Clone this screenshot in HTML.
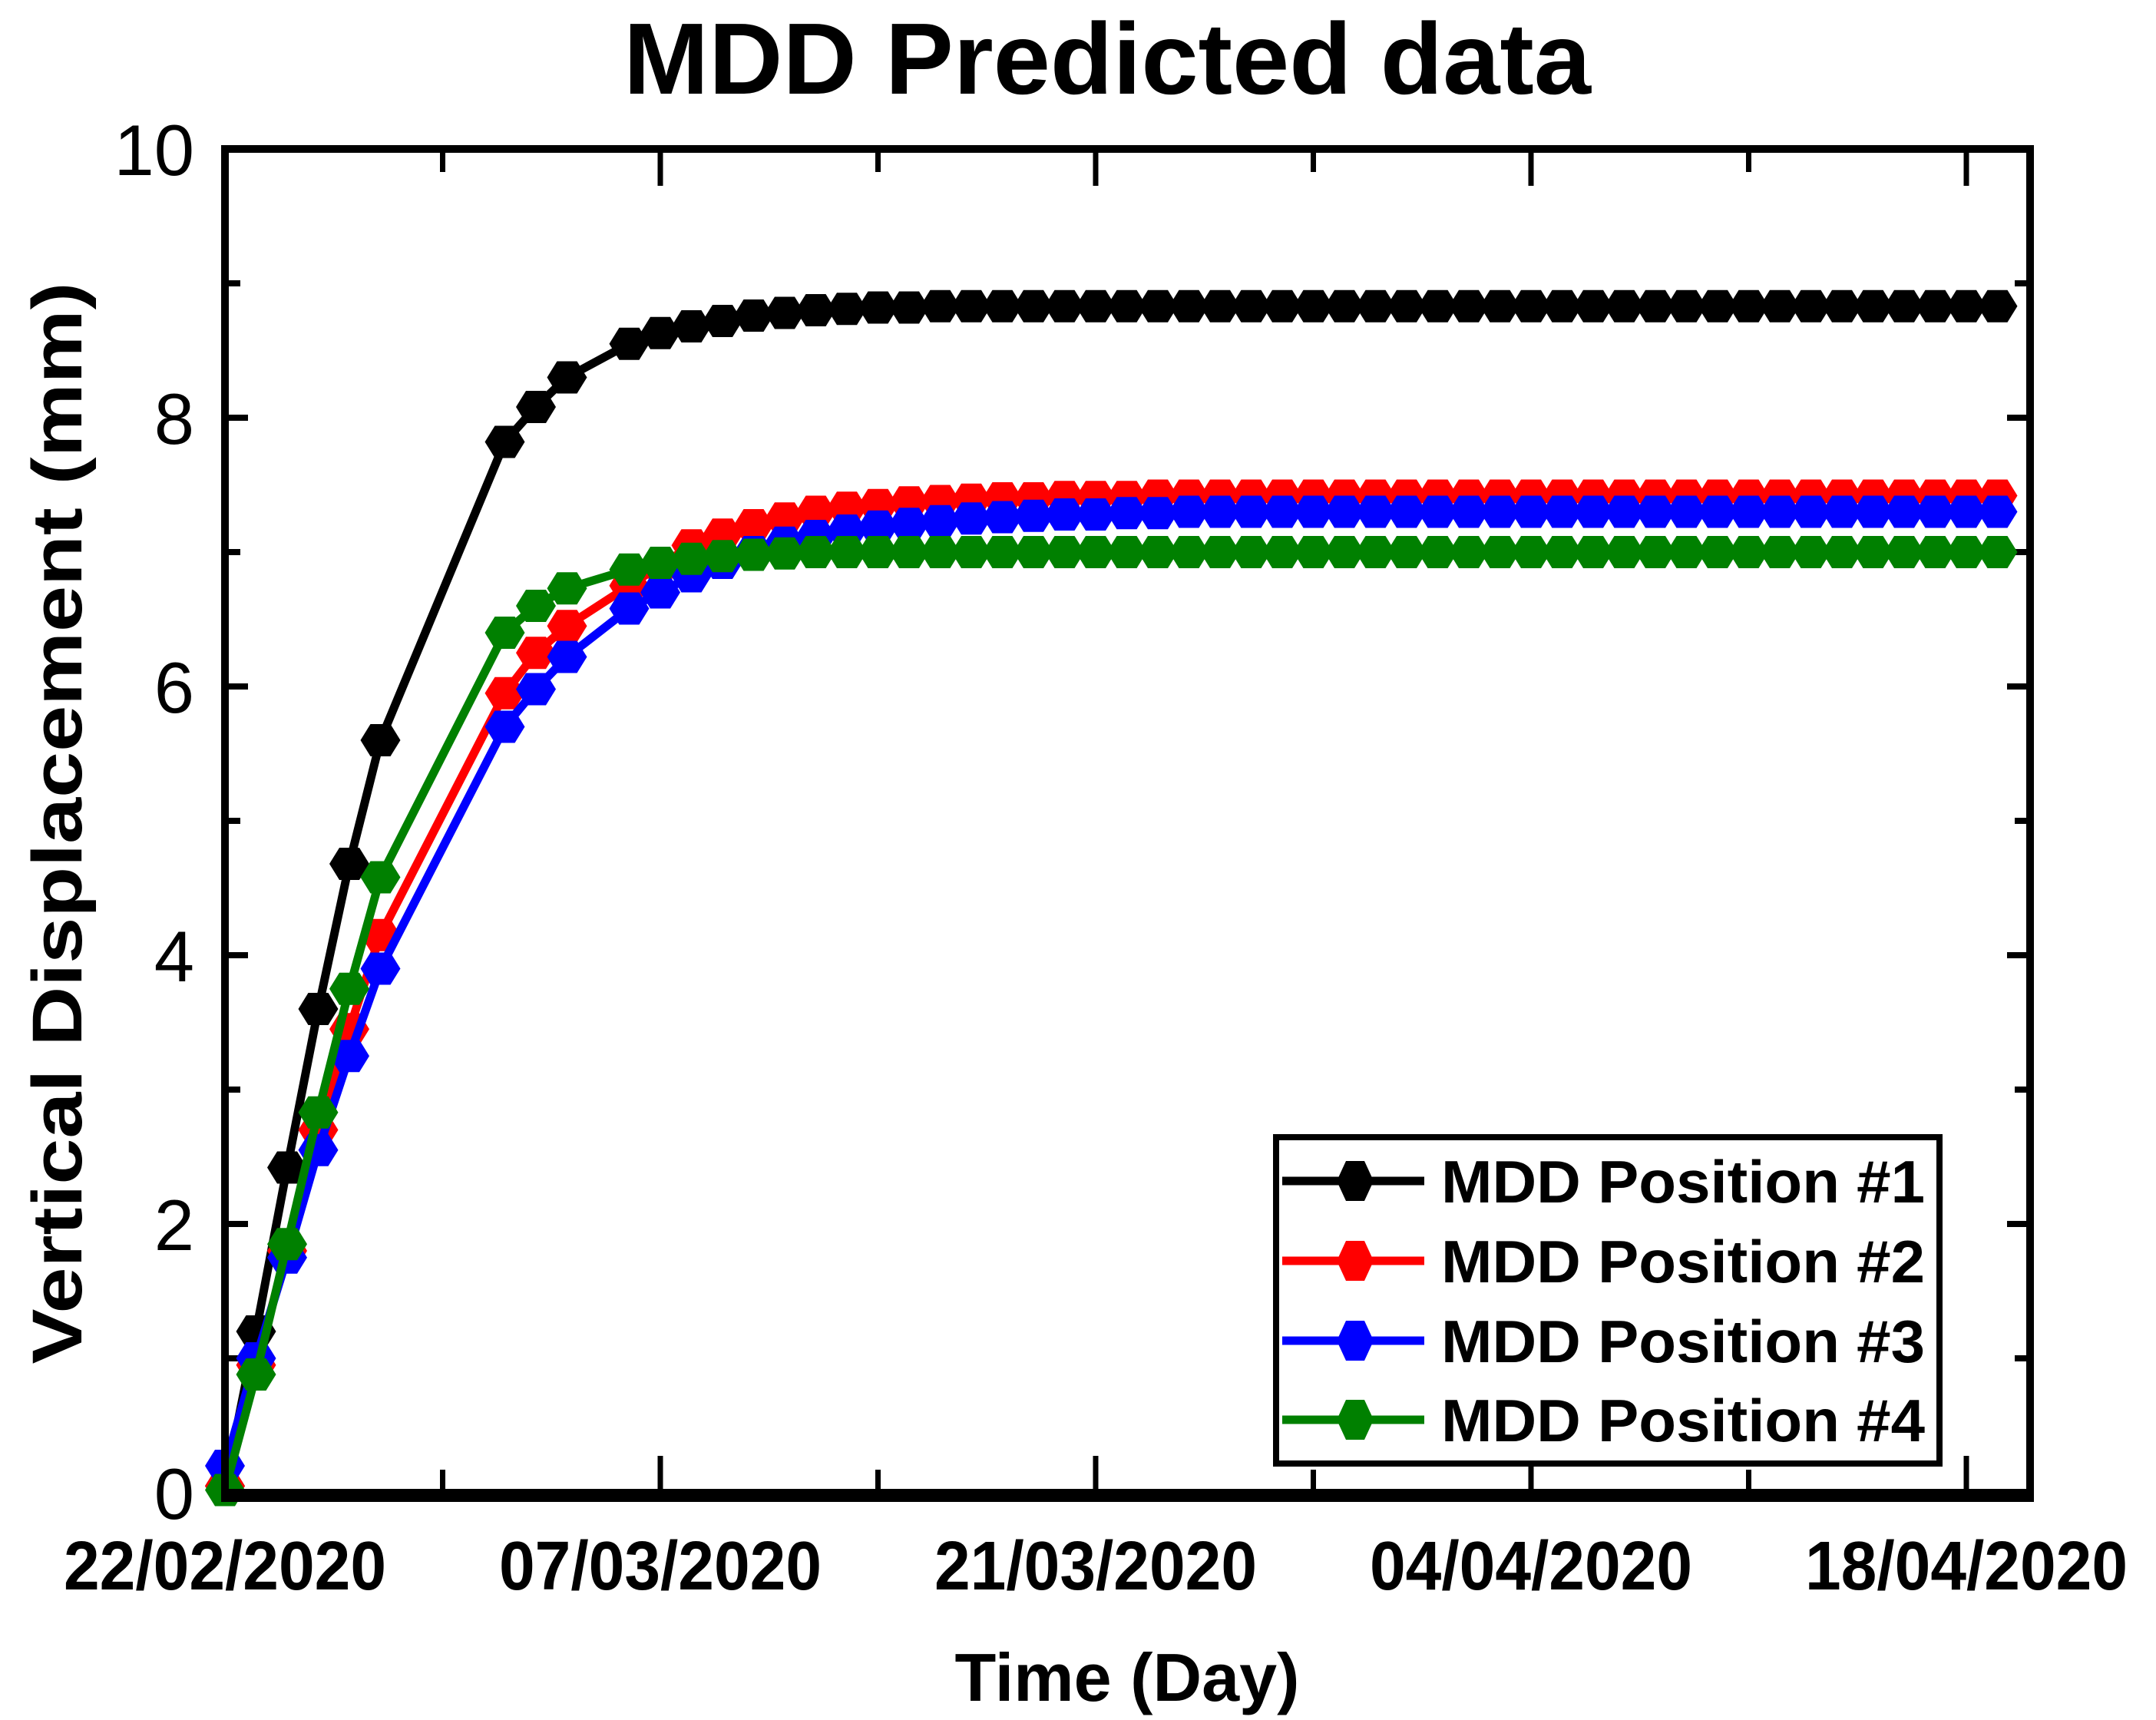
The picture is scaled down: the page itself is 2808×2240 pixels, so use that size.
<!DOCTYPE html>
<html><head><meta charset="utf-8"><style>html,body{margin:0;padding:0;background:#fff}svg{display:block}text{font-family:"Liberation Sans",Arial,sans-serif}</style></head>
<body>
<svg id="chart" width="2808" height="2240" viewBox="0 0 2808 2240" xmlns="http://www.w3.org/2000/svg">
<rect width="2808" height="2240" fill="#fff"/>
<text x="1442" y="122" font-size="132" font-weight="bold" text-anchor="middle" textLength="1260" lengthAdjust="spacingAndGlyphs">MDD Predicted data</text>
<text transform="translate(106,1072) rotate(-90)" font-size="92" font-weight="bold" text-anchor="middle" textLength="1409" lengthAdjust="spacingAndGlyphs">Vertical Displacement (mm)</text>
<text x="1468" y="2215" font-size="88" font-weight="bold" text-anchor="middle" textLength="449" lengthAdjust="spacingAndGlyphs">Time (Day)</text>
<g id="plot"></g>
</svg>
<script>
const days = [0,1,2,3,4,5,9,10,11,13,14,15,16,17,18,19,20,21,22,23,24,25,26,27,28,29,30,31,32,33,34,35,36,37,38,39,40,41,42,43,44,45,46,47,48,49,50,51,52,53,54,55,56,57];
const pos1 = [0.05,1.2,2.42,3.6,4.68,5.6,7.82,8.08,8.3,8.55,8.63,8.68,8.72,8.76,8.78,8.8,8.81,8.82,8.82,8.83,8.83,8.83,8.83,8.83,8.83,8.83,8.83,8.83,8.83,8.83,8.83,8.83,8.83,8.83,8.83,8.83,8.83,8.83,8.83,8.83,8.83,8.83,8.83,8.83,8.83,8.83,8.83,8.83,8.83,8.83,8.83,8.83,8.83,8.83];
const pos2 = [0.05,0.95,1.8,2.7,3.45,4.15,5.95,6.25,6.45,6.75,6.9,7.05,7.13,7.2,7.25,7.3,7.33,7.35,7.37,7.38,7.39,7.4,7.4,7.41,7.41,7.41,7.42,7.42,7.42,7.42,7.42,7.42,7.42,7.42,7.42,7.42,7.42,7.42,7.42,7.42,7.42,7.42,7.42,7.42,7.42,7.42,7.42,7.42,7.42,7.42,7.42,7.42,7.42,7.42];
const pos3 = [0.2,1.0,1.75,2.55,3.25,3.9,5.7,5.98,6.22,6.58,6.7,6.82,6.92,7.0,7.07,7.12,7.16,7.19,7.21,7.23,7.25,7.26,7.27,7.28,7.28,7.29,7.29,7.3,7.3,7.3,7.3,7.3,7.3,7.3,7.3,7.3,7.3,7.3,7.3,7.3,7.3,7.3,7.3,7.3,7.3,7.3,7.3,7.3,7.3,7.3,7.3,7.3,7.3,7.3];
const pos4 = [0.02,0.88,1.85,2.83,3.75,4.58,6.4,6.6,6.73,6.87,6.92,6.95,6.97,6.98,6.99,7.0,7.0,7.0,7.0,7.0,7.0,7.0,7.0,7.0,7.0,7.0,7.0,7.0,7.0,7.0,7.0,7.0,7.0,7.0,7.0,7.0,7.0,7.0,7.0,7.0,7.0,7.0,7.0,7.0,7.0,7.0,7.0,7.0,7.0,7.0,7.0,7.0,7.0,7.0];
const seriesNames = ["MDD Position #1","MDD Position #2","MDD Position #3","MDD Position #4"];
const yTicks = [0,2,4,6,8,10];
const xTickDays = [0,14,28,42,56];
const xTickLabels = ["22/02/2020","07/03/2020","21/03/2020","04/04/2020","18/04/2020"];

const L=293,R=2644,T=194,B=1944;
const xScale=d=>L+d*(2561-L)/56;
const yScale=v=>B-v*(B-T)/10;
const NS="http://www.w3.org/2000/svg";
const g=document.getElementById('plot');
function mk(tag,attrs,parent){const e=document.createElementNS(NS,tag);for(const k in attrs)e.setAttribute(k,attrs[k]);(parent||g).appendChild(e);return e;}
function hex(cx,cy,rx,ry){const a=rx*0.5;return `${cx-rx},${cy} ${cx-a},${cy-ry} ${cx+a},${cy-ry} ${cx+rx},${cy} ${cx+a},${cy+ry} ${cx-a},${cy+ry}`;}

for(let v=0;v<=10;v++){
  const y=yScale(v),len=(v%2===0)?30:20;
  let t=mk('line',{x1:L,y1:y,x2:L+len,y2:y,stroke:'#000','stroke-width':8});
  
  t=mk('line',{x1:R,y1:y,x2:R-len,y2:y,stroke:'#000','stroke-width':8});
  
}
yTicks.forEach(v=>{
  const t=mk('text',{x:L-40,y:yScale(v)+34,'font-size':94,'text-anchor':'end'});
  t.textContent=v;
  
});
for(let d=7;d<=56;d+=7){
  const x=xScale(d),len=(d%14===0)?48:30;
  let t=mk('line',{x1:x,y1:B,x2:x,y2:B-len,stroke:'#000','stroke-width':7});
  
  t=mk('line',{x1:x,y1:T,x2:x,y2:T+len,stroke:'#000','stroke-width':7});
  
}
xTickDays.forEach((d,i)=>{
  const t=mk('text',{x:xScale(d),y:2070,'font-size':90,'font-weight':'bold','text-anchor':'middle',textLength:420,lengthAdjust:'spacingAndGlyphs'});
  t.textContent=xTickLabels[i];
  
});

const all=[pos1,pos2,pos3,pos4];
const colors=['#000','#ff0000','#0000ff','#008000'];
[0,1,2,3].forEach(s=>{
  const vals=all[s];
  const pts=days.map((d,i)=>xScale(d)+','+yScale(vals[i])).join(' ');
  const ln=mk('polyline',{points:pts,fill:'none',stroke:colors[s],'stroke-width':11,'stroke-linejoin':'round'});
  
  days.forEach((d,i)=>{
    const m=mk('polygon',{points:hex(xScale(d),yScale(vals[i]),26,21),fill:colors[s]});
    
  });
});

const fr=mk('rect',{x:L,y:T,width:R-L,height:B-T,fill:'none',stroke:'#000','stroke-width':10});

const ba=mk('line',{x1:L-5,y1:B+4,x2:R+5,y2:B+4,stroke:'#000','stroke-width':16});


const lg=mk('g',{});

const lb=mk('rect',{x:1662,y:1481,width:864,height:425,fill:'#fff',stroke:'#000','stroke-width':8},lg);

const ly=[1538,1642,1746,1849];
seriesNames.forEach((n,i)=>{
  const e=mk('g',{},lg);
  
  mk('line',{x1:1670,y1:ly[i],x2:1855,y2:ly[i],stroke:colors[i],'stroke-width':11},e);
  mk('polygon',{points:hex(1765,ly[i],24,26),fill:colors[i]},e);
  const t=mk('text',{x:1877,y:ly[i]+28,'font-size':78,'font-weight':'bold',textLength:630,lengthAdjust:'spacingAndGlyphs'},e);
  t.textContent=n;
});
</script>
</body></html>
